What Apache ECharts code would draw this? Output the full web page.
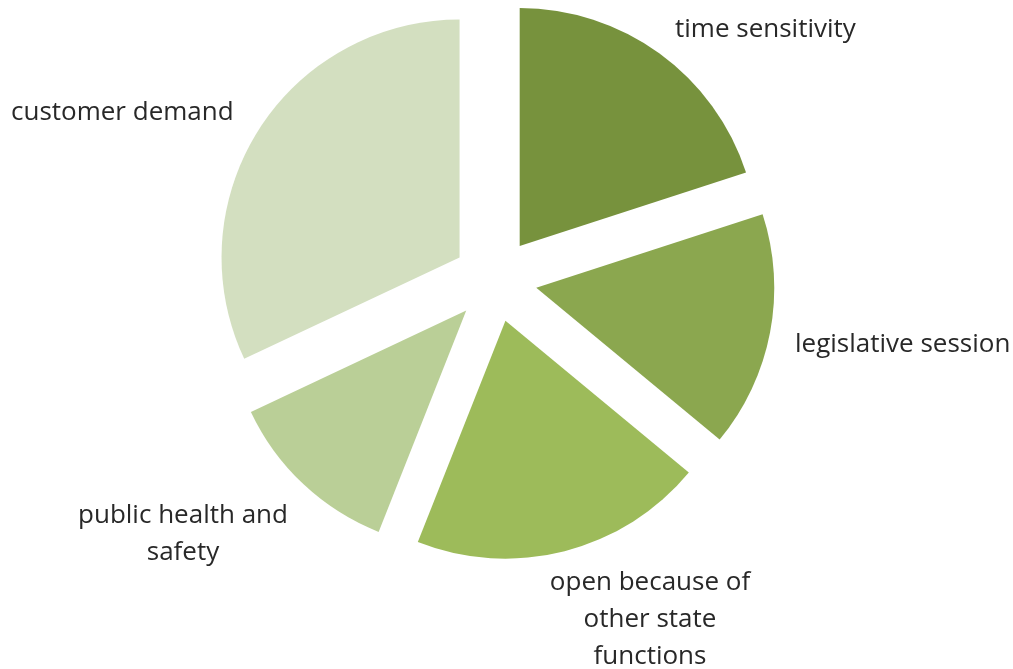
<!DOCTYPE html>
<html>
<head>
<meta charset="utf-8">
<script src="https://cdn.jsdelivr.net/npm/echarts@6/dist/echarts.min.js"></script>
<style>
  html, body { margin: 0; padding: 0; background: #ffffff; }
  #chart { width: 1013px; height: 669px; }
</style>
</head>
<body>
<div id="chart"></div>
<script>
// Reasons given, as shares of the whole (percent)
const categories = [
  'time sensitivity',
  'legislative session',
  'open because of other state functions',
  'public health and safety',
  'customer demand'
];
const values = [20, 16, 20, 12, 32];

// Label text as drawn (line breaks included)
const labelText = [
  'time sensitivity',
  'legislative session',
  'open because of\nother state\nfunctions',
  'public health and\nsafety',
  'customer demand'
];

const sliceColors = ['#77923d', '#8ba74f', '#9dbb5a', '#bacf97', '#d3dfc0'];

// Where each label sits (x, y, alignment)
const labelSpots = [
  { x: 675, y: 30, align: 'left' },
  { x: 795, y: 345, align: 'left' },
  { x: 650, y: 620, align: 'center' },
  { x: 183, y: 534, align: 'center' },
  { x: 11, y: 113, align: 'left' }
];

const chart = echarts.init(document.getElementById('chart'), null, { renderer: 'canvas' });

chart.setOption({
  backgroundColor: '#ffffff',
  animation: false,
  graphic: labelText.map((t, i) => ({
    type: 'text',
    x: labelSpots[i].x,
    y: labelSpots[i].y,
    silent: true,
    style: {
      text: t,
      align: labelSpots[i].align,
      verticalAlign: 'middle',
      fontFamily: 'Open Sans',
      fontSize: 26,
      lineHeight: 37,
      fill: '#282828'
    }
  })),
  series: [{
    type: 'pie',
    center: [495, 280],
    radius: [0, 238],
    startAngle: 90,
    clockwise: true,
    // every slice is pulled out from the centre by the same distance
    selectedMode: 'multiple',
    selectedOffset: 42,
    avoidLabelOverlap: false,
    emphasis: { disabled: true },
    itemStyle: { borderWidth: 0 },
    label: { show: false },
    labelLine: { show: false },
    data: categories.map((name, i) => ({
      name: name,
      value: values[i],
      selected: true,
      itemStyle: { color: sliceColors[i] }
    }))
  }]
});
</script>
</body>
</html>
